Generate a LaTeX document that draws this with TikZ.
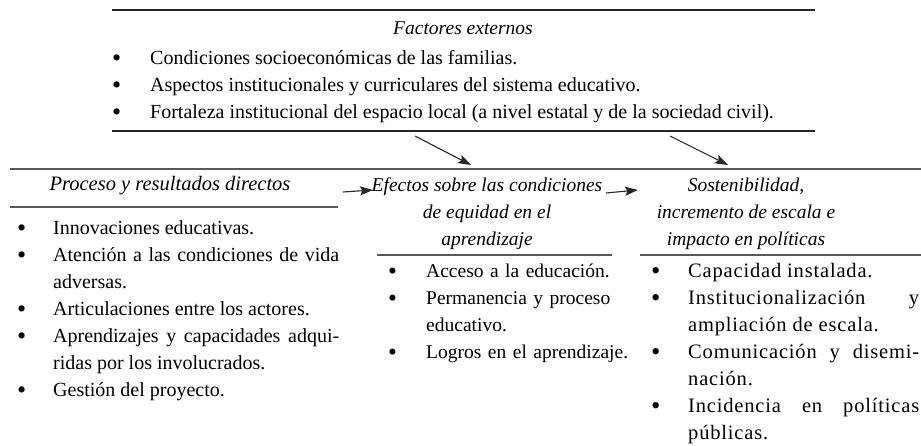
\documentclass[tikz,border=0pt]{standalone}
\usepackage{fontspec}
\usepackage{graphicx}
\setmainfont{Liberation Serif}
\newfontfamily\trackedfont[LetterSpace=4]{Liberation Serif}
\usetikzlibrary{arrows.meta}
\newlength\bhang
\newcommand{\bitem}[1]{\par\noindent\hangindent=\bhang\hangafter=1\strut\makebox[\bhang][l]{\raisebox{-0.1em}{\scalebox{1.3}{\textbullet}}}#1}
\hyphenpenalty=10000
\tolerance=9999
\begin{document}
\begin{tikzpicture}[x=1pt,y=-1pt,
  rule/.style={line width=1.4pt, black!85},
  rulegray/.style={line width=1.8pt, black!65},
  conn/.style={line width=1.1pt, black!85, -{Stealth[length=13pt,width=9pt,inset=2.5pt]}},
  head/.style={font=\fontsize{19.5}{27}\selectfont\itshape, inner sep=0, align=center},
  blist/.style={font=\fontsize{20}{27}\selectfont, inner sep=0, align=justify, anchor=north west},
]
\useasboundingbox[fill=white] (0,0) rectangle (921,446);
% top box
\draw[rule] (112,10) -- (815,10);
\node[head, anchor=base] (ext) at (463,35) {Factores externos};
\node[blist, text width=703pt] (extlist) at (112,37) {\setlength\bhang{38pt}%
\bitem{Condiciones socioeconómicas de las familias.}%
\bitem{Aspectos institucionales y curriculares del sistema educativo.}%
\bitem{Fortaleza institucional del espacio local (a nivel estatal y de la sociedad civil).}\par};
\draw[rule] (112,131) -- (815,131);
% long rule
\draw[rulegray] (10,169) -- (921,169);
% headings
\node[head, font=\fontsize{20.5}{27}\selectfont\itshape, anchor=base] (proc) at (170,191) {Proceso y resultados directos};
\draw[rulegray] (10,207) -- (338,207);
\node[head, anchor=north] (efec) at (487,172) {\strut Efectos sobre las condiciones\\de equidad en el\\aprendizaje};
\draw[rulegray] (377,255) -- (612,255);
\node[head, anchor=north] (sost) at (746,172) {\strut Sostenibilidad,\\incremento de escala e\\impacto en políticas};
\draw[rulegray] (640,255) -- (921,255);
% connectors
\coordinate (a1s) at (415,136); \coordinate (a1e) at (471,165);
\coordinate (a2s) at (670,136); \coordinate (a2e) at (728,165);
\coordinate (h1s) at (343,192); \coordinate (h1e) at (373,190);
\coordinate (h2s) at (606,193); \coordinate (h2e) at (638,190);
\draw[conn] (a1s) -- (a1e);
\draw[conn] (a2s) -- (a2e);
\draw[conn] (h1s) -- (h1e);
\draw[conn] (h2s) -- (h2e);
% lists
\node[blist, text width=322pt] (list1) at (17,207) {\setlength\bhang{36pt}%
\bitem{Innovaciones educativas.}%
\bitem{Atención a las condiciones de vida\linebreak adversas.}%
\bitem{Articulaciones entre los actores.}%
\bitem{Aprendizajes y capacidades adqui-\linebreak ridas por los involucrados.}%
\bitem{Gestión del proyecto.}\par};
\node[blist, align=left, font=\fontsize{19.5}{27}\selectfont, text width=240pt] (list2) at (388,250) {\setlength\bhang{38pt}%
\bitem{Acceso a la educación.}%
\bitem{Permanencia y proceso\linebreak educativo.}%
\bitem{Logros en el aprendizaje.}\par};
\node[blist, font=\trackedfont\fontsize{20.5}{27}\selectfont, text width=268pt] (list3) at (651,250) {\setlength\bhang{37pt}%
\bitem{Capacidad instalada.}%
\bitem{Institucionalización y\linebreak ampliación de escala.}%
\bitem{Comunicación y disemi-\linebreak nación.}%
\bitem{Incidencia en políticas\linebreak públicas.}\par};
\end{tikzpicture}
\end{document}
